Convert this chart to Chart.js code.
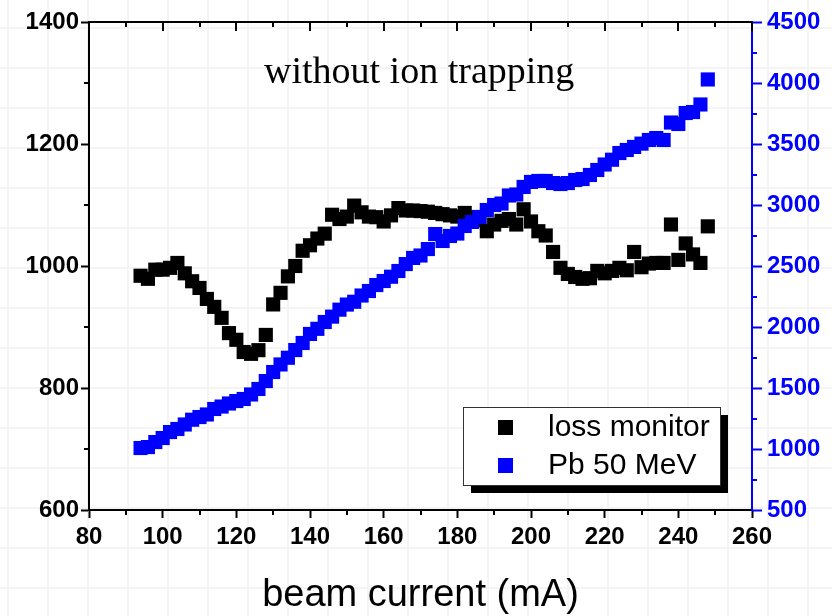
<!DOCTYPE html>
<html>
<head>
<meta charset="utf-8">
<script src="https://cdn.jsdelivr.net/npm/chart.js@4.4.1/dist/chart.umd.min.js"></script>
<style>
  html, body { margin: 0; padding: 0; }
  body {
    width: 832px; height: 616px; overflow: hidden;
    background-color: #fff;
    background-image:
      linear-gradient(to right, #f4f4f4 2px, transparent 2px),
      linear-gradient(to bottom, #f4f4f4 2px, transparent 2px);
    background-size: 40px 40px;
    background-position: 7px 27px;
  }
  canvas { display: block; }
</style>
</head>
<body>
<canvas id="chart" width="832" height="616"></canvas>
<script>
// beam current (mA), shared by both series
const currents = [
  94, 96, 98, 100, 102, 104, 106, 108, 110, 112,
  114, 116, 118, 120, 122, 124, 126, 128, 130, 132,
  134, 136, 138, 140, 142, 144, 146, 148, 150, 152,
  154, 156, 158, 160, 162, 164, 166, 168, 170, 172,
  174, 176, 178, 180, 182, 184, 186, 188, 190, 192,
  194, 196, 198, 200, 202, 204, 206, 208, 210, 212,
  214, 216, 218, 220, 222, 224, 226, 228, 230, 232,
  234, 236, 238, 240, 242, 244, 246, 248
];

// left axis
const lossMonitor = [
  984, 979, 994, 994, 997, 1005, 988, 975, 964, 946,
  933, 915, 890, 879, 859, 856, 862, 887, 937, 956,
  983, 1000, 1025, 1034, 1045, 1053, 1084, 1077, 1081, 1099,
  1088, 1081, 1080, 1073, 1083, 1095, 1091, 1091, 1090, 1089,
  1087, 1085, 1083, 1081, 1087, 1080, 1075, 1057, 1068, 1074,
  1077, 1068, 1093, 1073, 1057, 1050, 1023, 997, 987, 982,
  979, 980, 992, 988, 992, 997, 993, 1023, 998, 1004,
  1005, 1005, 1068, 1010, 1037, 1019, 1005, 1065
];

// right axis
const pb50 = [
  1008, 1016, 1057, 1090, 1139, 1164, 1201, 1240, 1262, 1283,
  1328, 1348, 1373, 1393, 1410, 1447, 1492, 1557, 1631, 1693,
  1748, 1811, 1869, 1943, 1985, 2041, 2085, 2142, 2184, 2207,
  2258, 2295, 2344, 2377, 2412, 2459, 2516, 2566, 2586, 2639,
  2762, 2705, 2746, 2766, 2828, 2861, 2902, 2959, 3000, 3012,
  3078, 3086, 3148, 3189, 3197, 3197, 3180, 3172, 3180, 3205,
  3213, 3246, 3287, 3332, 3371, 3426, 3451, 3476, 3503, 3533,
  3549, 3533, 3676, 3664, 3754, 3762, 3824, 4029
];

const seriesNames = ['loss monitor', 'Pb 50 MeV'];
const chartTitle = 'without ion trapping';
const xTitle = 'beam current (mA)';

const sans = '"Liberation Sans", Arial, sans-serif';
const serif = '"Liberation Serif", "Times New Roman", serif';
const BLUE = '#0000ff';
const plain = v => String(v); // no thousands separator

// top axis line, inward top ticks, and the minor ticks Chart.js can't do
const axisDecor = {
  id: 'axisDecor',
  afterDraw(chart) {
    const { ctx, chartArea: a, scales } = chart;
    const x = scales.x, y = scales.y, y2 = scales.y2;
    ctx.save();
    ctx.lineWidth = 2;
    ctx.strokeStyle = '#000';
    ctx.beginPath();
    ctx.moveTo(a.left - 1, a.top);
    ctx.lineTo(a.right, a.top);
    for (let v = 80; v <= 260; v += 10) {
      const px = Math.round(x.getPixelForValue(v));
      const major = v % 20 === 0;
      ctx.moveTo(px, a.top);
      ctx.lineTo(px, a.top + (major ? 9 : 5));
      if (!major) {
        ctx.moveTo(px, a.bottom);
        ctx.lineTo(px, a.bottom + 5);
      }
    }
    for (let v = 700; v < 1400; v += 200) {
      const py = Math.round(y.getPixelForValue(v));
      ctx.moveTo(a.left, py);
      ctx.lineTo(a.left - 5, py);
    }
    ctx.stroke();

    ctx.strokeStyle = BLUE;
    ctx.beginPath();
    for (let v = 750; v < 4500; v += 500) {
      const py = Math.round(y2.getPixelForValue(v));
      ctx.moveTo(a.right, py);
      ctx.lineTo(a.right + 5, py);
    }
    ctx.stroke();
    ctx.restore();
  }
};

const titleText = {
  id: 'titleText',
  afterDraw(chart) {
    const ctx = chart.ctx;
    ctx.save();
    ctx.fillStyle = '#000';
    ctx.font = '38px ' + serif;
    ctx.textBaseline = 'alphabetic';
    ctx.textAlign = 'left';
    ctx.fillText(chartTitle, 264, 83);
    ctx.restore();
  }
};

// boxed legend with a drop shadow, inside the plot
const boxLegend = {
  id: 'boxLegend',
  afterDraw(chart) {
    const ctx = chart.ctx;
    const bx = 463, by = 407, bw = 257, bh = 78;
    ctx.save();
    ctx.fillStyle = '#000';
    ctx.fillRect(bx + 8, by + 8, bw, bh);
    ctx.fillStyle = '#fff';
    ctx.fillRect(bx, by, bw, bh);
    ctx.strokeStyle = '#333';
    ctx.lineWidth = 1;
    ctx.strokeRect(bx + 0.5, by + 0.5, bw, bh);
    ctx.font = '30px ' + sans;
    ctx.textBaseline = 'middle';
    ctx.textAlign = 'left';
    chart.data.datasets.forEach((ds, i) => {
      const cy = by + 20 + i * 38;
      ctx.fillStyle = ds.backgroundColor;
      ctx.fillRect(bx + 35, cy - 7, 15, 15);
      ctx.fillStyle = '#000';
      ctx.fillText(ds.label, bx + 85, cy + 1);
    });
    ctx.restore();
  }
};

const toPoints = vals => currents.map((c, i) => ({ x: c, y: vals[i] }));

new Chart(document.getElementById('chart'), {
  type: 'scatter',
  data: {
    datasets: [
      {
        label: seriesNames[0],
        data: toPoints(lossMonitor),
        yAxisID: 'y',
        backgroundColor: '#000',
        borderWidth: 0,
        pointStyle: 'rect',
        pointRadius: 10,
        order: 1
      },
      {
        label: seriesNames[1],
        data: toPoints(pb50),
        yAxisID: 'y2',
        backgroundColor: BLUE,
        borderWidth: 0,
        pointStyle: 'rect',
        pointRadius: 10,
        order: 0
      }
    ]
  },
  options: {
    responsive: false,
    animation: false,
    layout: { padding: { top: 22, left: 0, right: 0, bottom: 0 } },
    plugins: {
      legend: { display: false },
      tooltip: { enabled: false }
    },
    scales: {
      x: {
        type: 'linear',
        position: 'bottom',
        min: 80,
        max: 260,
        afterFit: s => { s.height = 106; },
        ticks: {
          stepSize: 20,
          autoSkip: false,
          maxRotation: 0,
          padding: 5,
          callback: plain,
          color: '#000',
          font: { family: sans, size: 24, weight: 'bold' }
        },
        grid: { drawOnChartArea: false, tickLength: 8, tickWidth: 2, tickColor: '#000' },
        border: { color: '#000', width: 2 },
        title: {
          display: true,
          text: xTitle,
          color: '#000',
          font: { family: sans, size: 38 },
          padding: { top: 0, bottom: -2 }
        }
      },
      y: {
        type: 'linear',
        position: 'left',
        min: 600,
        max: 1400,
        afterFit: s => { s.width = 89; },
        ticks: {
          stepSize: 200,
          padding: 2,
          callback: plain,
          color: '#000',
          font: { family: sans, size: 24, weight: 'bold' }
        },
        grid: { drawOnChartArea: false, tickLength: 8, tickWidth: 2, tickColor: '#000' },
        border: { color: '#000', width: 2 }
      },
      y2: {
        type: 'linear',
        position: 'right',
        min: 500,
        max: 4500,
        afterFit: s => { s.width = 80; },
        ticks: {
          stepSize: 500,
          padding: 5,
          callback: plain,
          color: BLUE,
          font: { family: sans, size: 24, weight: 'bold' }
        },
        grid: { drawOnChartArea: false, tickLength: 10, tickWidth: 2, tickColor: BLUE },
        border: { color: BLUE, width: 2 }
      }
    }
  },
  plugins: [axisDecor, titleText, boxLegend]
});
</script>
</body>
</html>
